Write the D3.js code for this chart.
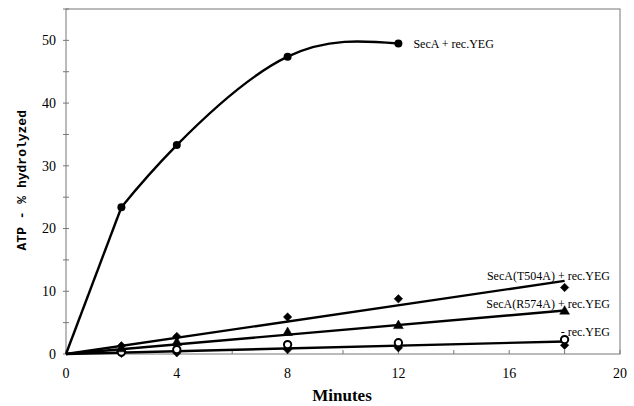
<!DOCTYPE html>
<html>
<head>
<meta charset="utf-8">
<script src="https://cdn.jsdelivr.net/npm/d3@7"></script>
<style>
  body { margin: 0; background: #fff; }
  svg { display: block; }
</style>
</head>
<body>
<div id="chart"></div>
<script>
// values
var minutesSecA = [0, 2, 4, 8, 12];
var secAYeg = [0, 23.4, 33.3, 47.4, 49.5];

var minutes = [2, 4, 8, 12, 18];
var t504a = [1.3, 2.8, 5.9, 8.8, 10.6];
var r574a = [0.8, 1.8, 3.4, 4.5, 6.8];
var noYegOpen = [0.3, 0.7, 1.5, 1.8, 2.3];
var noYegFilled = [0.1, 0.2, 0.7, 1.0, 1.4];

var xTicks = [0, 4, 8, 12, 16, 20];
var yTicks = [0, 10, 20, 30, 40, 50];

var margin = { top: 9, right: 14, bottom: 52, left: 66 },
    width = 634 - margin.left - margin.right,
    height = 406 - margin.top - margin.bottom;

var svg = d3.select("#chart")
    .append("svg")
    .attr("width", 634)
    .attr("height", 406)
    .append("g")
    .attr("transform", "translate(" + margin.left + "," + margin.top + ")");

var x = d3.scaleLinear().domain([0, 20]).range([0, width]);
var y = d3.scaleLinear().domain([0, 55]).range([height, 0]);

var axisColor = "#777";

// frame
svg.append("rect")
    .attr("width", width)
    .attr("height", height)
    .attr("fill", "none")
    .attr("stroke", axisColor)
    .attr("stroke-width", 1);

// minor ticks
svg.selectAll(".xminor")
    .data(d3.range(0, 21, 2))
    .enter().append("line")
    .attr("x1", function (d) { return x(d); })
    .attr("x2", function (d) { return x(d); })
    .attr("y1", height)
    .attr("y2", height - 4)
    .attr("stroke", axisColor);
svg.selectAll(".yminor")
    .data(d3.range(0, 56, 5))
    .enter().append("line")
    .attr("x1", -3)
    .attr("x2", 3)
    .attr("y1", function (d) { return y(d); })
    .attr("y2", function (d) { return y(d); })
    .attr("stroke", axisColor);

// tick labels
svg.selectAll(".xlab")
    .data(xTicks)
    .enter().append("text")
    .attr("x", function (d) { return x(d); })
    .attr("y", height + 24)
    .attr("text-anchor", "middle")
    .style("font-family", "Liberation Serif, Times New Roman, serif")
    .style("font-size", "14px")
    .text(function (d) { return d; });
svg.selectAll(".ylab")
    .data(yTicks)
    .enter().append("text")
    .attr("x", -10)
    .attr("y", function (d) { return y(d); })
    .attr("dy", "0.35em")
    .attr("text-anchor", "end")
    .style("font-family", "Liberation Serif, Times New Roman, serif")
    .style("font-size", "14px")
    .text(function (d) { return d; });

// axis titles
svg.append("text")
    .attr("x", 276)
    .attr("y", height + 47)
    .attr("text-anchor", "middle")
    .style("font-family", "Liberation Serif, Times New Roman, serif")
    .style("font-weight", "bold")
    .style("font-size", "17px")
    .text("Minutes");
svg.append("text")
    .attr("transform", "translate(-40," + (y(27.7)) + ") rotate(-90)")
    .attr("text-anchor", "middle")
    .style("font-family", "Liberation Mono, Courier New, monospace")
    .style("font-weight", "bold")
    .style("font-size", "13px")
    .text("ATP - % hydrolyzed");

// SecA + rec.YEG curve: straight rise to the first point, smooth after it
var secAData = minutesSecA.map(function (m, i) { return { m: m, v: secAYeg[i] }; });
var line = d3.line()
    .x(function (d) { return x(d.m); })
    .y(function (d) { return y(d.v); });
svg.append("path")
    .datum(secAData.slice(0, 2))
    .attr("fill", "none")
    .attr("stroke", "#000")
    .attr("stroke-width", 2.4)
    .attr("d", line);
svg.append("path")
    .datum(secAData.slice(1))
    .attr("fill", "none")
    .attr("stroke", "#000")
    .attr("stroke-width", 2.4)
    .attr("d", line.curve(d3.curveNatural));
svg.selectAll(".seca")
    .data(secAData.slice(1))
    .enter().append("circle")
    .attr("cx", function (d) { return x(d.m); })
    .attr("cy", function (d) { return y(d.v); })
    .attr("r", 4)
    .attr("fill", "#000");

// linear fits through the origin
function slope(xs, ys) {
  var sxy = d3.sum(xs, function (v, i) { return v * ys[i]; });
  var sxx = d3.sum(xs, function (v) { return v * v; });
  return sxy / sxx;
}
var fits = [
  slope(minutes, t504a),
  slope(minutes, r574a),
  slope(minutes.concat(minutes), noYegOpen.concat(noYegFilled))
];
fits.forEach(function (k) {
  svg.append("line")
      .attr("x1", x(0)).attr("y1", y(0))
      .attr("x2", x(18)).attr("y2", y(18 * k))
      .attr("stroke", "#000")
      .attr("stroke-width", 2.4);
});

function drawMarkers(vals, kind, filled) {
  svg.selectAll(null)
      .data(vals)
      .enter().append("path")
      .attr("transform", function (d, i) {
        var t = "translate(" + x(minutes[i]) + "," + y(d) + ")";
        return kind === "diamond" ? t + " rotate(45)" : t;
      })
      .attr("d", d3.symbol()
          .type(kind === "diamond" ? d3.symbolSquare : kind === "triangle" ? d3.symbolTriangle : d3.symbolCircle)
          .size(kind === "diamond" ? 36 : 42))
      .attr("fill", filled ? "#000" : "#fff")
      .attr("stroke", "#000")
      .attr("stroke-width", filled ? 0.5 : 2);
}
drawMarkers(noYegFilled, "diamond", true);
drawMarkers(noYegOpen, "circle", false);
drawMarkers(r574a, "triangle", true);
drawMarkers(t504a, "diamond", true);

// series labels
var labelFont = "Liberation Serif, Times New Roman, serif";
svg.append("text")
    .attr("x", x(12) + 15)
    .attr("y", y(49.5))
    .attr("dy", "0.35em")
    .style("font-family", labelFont)
    .style("font-size", "12px")
    .text("SecA + rec.YEG");
[["SecA(T504A) + rec.YEG", 12.4], ["SecA(R574A) + rec.YEG", 8.0], ["- rec.YEG", 3.6]]
  .forEach(function (l) {
    svg.append("text")
        .attr("x", width - 10)
        .attr("y", y(l[1]))
        .attr("dy", "0.35em")
        .attr("text-anchor", "end")
        .style("font-family", labelFont)
        .style("font-size", "12px")
        .text(l[0]);
  });
</script>
</body>
</html>
